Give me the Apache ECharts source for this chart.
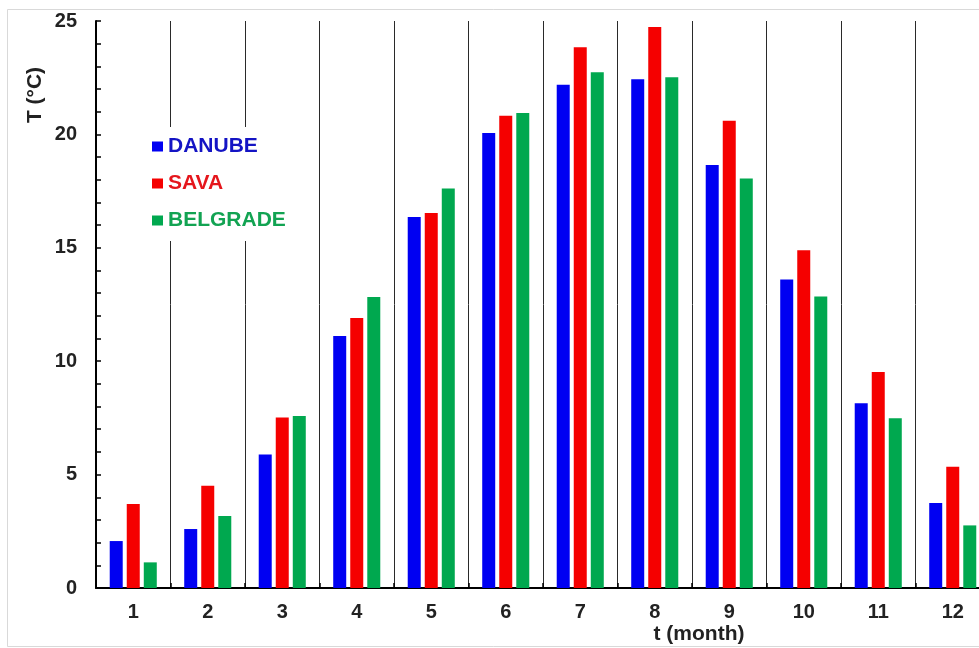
<!DOCTYPE html>
<html>
<head>
<meta charset="utf-8">
<script src="https://cdn.jsdelivr.net/npm/echarts@6/dist/echarts.min.js"></script>
<style>
  html, body { margin: 0; padding: 0; background: #fff; }
  #chart { width: 979px; height: 648px; }
</style>
</head>
<body>
<div id="chart"></div>
<script>
// Monthly mean water / air temperature (°C)
const months = ['1', '2', '3', '4', '5', '6', '7', '8', '9', '10', '11', '12'];
const danube = [2.07, 2.6, 5.89, 11.11, 16.36, 20.06, 22.19, 22.43, 18.65, 13.6, 8.15, 3.75];
const sava = [3.7, 4.51, 7.52, 11.91, 16.53, 20.82, 23.84, 24.74, 20.6, 14.89, 9.52, 5.35];
const belgrade = [1.13, 3.17, 7.58, 12.83, 17.61, 20.94, 22.74, 22.52, 18.06, 12.85, 7.49, 2.76];

const seriesNames = ['DANUBE', 'SAVA', 'BELGRADE'];
const barColors = ['#0000f2', '#f50000', '#00a84f'];
const legendTextColors = ['#1414c4', '#e5161c', '#12a352'];

const FONT = '"Liberation Sans", Arial, sans-serif';

const chart = echarts.init(document.getElementById('chart'));

const makeBar = (name, values, color) => ({
  name: name,
  type: 'bar',
  data: values,
  barWidth: 13,
  barGap: '31%',
  itemStyle: { color: color },
  emphasis: { disabled: true }
});

chart.setOption({
  animation: false,
  backgroundColor: '#fff',
  // the plot runs a little past the right edge of the canvas
  grid: { left: 96, top: 21, width: 894, height: 567, containLabel: false, outerBoundsMode: 'none' },
  legend: {
    orient: 'vertical',
    left: 146,
    top: 127,
    padding: [9, 10, 10, 6],
    backgroundColor: '#fff',
    icon: 'rect',
    itemWidth: 11,
    itemHeight: 10,
    itemGap: 16,
    selectedMode: false,
    textStyle: { fontFamily: FONT, fontWeight: 'bold', fontSize: 21, lineHeight: 21 },
    data: seriesNames.map((n, i) => ({ name: n, textStyle: { color: legendTextColors[i] } }))
  },
  xAxis: {
    type: 'category',
    data: months,
    boundaryGap: true,
    axisLine: { lineStyle: { color: '#000', width: 2 } },
    axisTick: { show: true, inside: true, length: 5, alignWithLabel: false, lineStyle: { color: '#000', width: 1.5 } },
    axisLabel: { margin: 14, color: '#222', fontFamily: FONT, fontWeight: 'bold', fontSize: 20 },
    splitLine: { show: true, lineStyle: { color: '#2a2a2a', width: 1 } }
  },
  yAxis: {
    type: 'value',
    min: 0,
    max: 25,
    interval: 5,
    axisLine: { show: true, lineStyle: { color: '#000', width: 2 } },
    axisTick: { show: true, inside: true, length: 5, lineStyle: { color: '#000', width: 1.5 } },
    minorTick: { show: true, splitNumber: 5, length: 5, lineStyle: { color: '#000', width: 1.5 } },
    axisLabel: { margin: 19, color: '#222', fontFamily: FONT, fontWeight: 'bold', fontSize: 20 },
    splitLine: { show: false }
  },
  graphic: [
    {
      type: 'rect',
      shape: { x: 7.5, y: 9.5, width: 1000, height: 637 },
      style: { fill: 'none', stroke: '#d9d9d9', lineWidth: 1 },
      silent: true,
      z: -10
    },
    {
      type: 'text',
      x: 35,
      y: 95,
      rotation: Math.PI / 2,
      style: {
        text: 'T (°C)',
        fontFamily: FONT,
        fontWeight: 'bold',
        fontSize: 21,
        fill: '#222',
        textAlign: 'center',
        textVerticalAlign: 'middle'
      }
    },
    {
      type: 'text',
      x: 699,
      y: 634,
      style: {
        text: 't (month)',
        fontFamily: FONT,
        fontWeight: 'bold',
        fontSize: 21,
        fill: '#222',
        textAlign: 'center',
        textVerticalAlign: 'middle'
      }
    }
  ],
  series: [
    makeBar(seriesNames[0], danube, barColors[0]),
    makeBar(seriesNames[1], sava, barColors[1]),
    makeBar(seriesNames[2], belgrade, barColors[2])
  ]
});
</script>
</body>
</html>
